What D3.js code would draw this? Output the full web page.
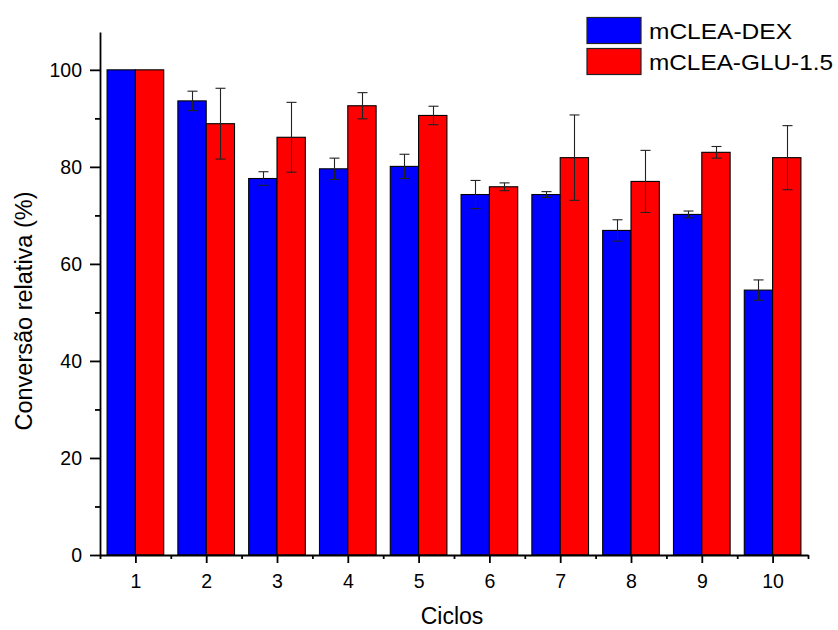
<!DOCTYPE html>
<html>
<head>
<meta charset="utf-8">
<script src="https://cdn.jsdelivr.net/npm/d3@7"></script>
<style>
  body { margin: 0; background: #fff; }
  text { font-family: Arial, "Liberation Sans", sans-serif; fill: #000; }
</style>
</head>
<body>
<div id="chart"></div>
<script>
// values
const cycles = [1, 2, 3, 4, 5, 6, 7, 8, 9, 10];
const dexValues = [100, 93.6, 77.6, 79.6, 80.1, 74.3, 74.3, 66.9, 70.2, 54.6];
const dexErrors = [0, 2.0, 1.4, 2.2, 2.5, 2.9, 0.6, 2.2, 0.7, 2.1];
const gluValues = [100, 88.9, 86.1, 92.6, 90.6, 75.9, 81.9, 77.0, 83.0, 81.9];
const gluErrors = [0, 7.3, 7.2, 2.7, 1.9, 0.8, 8.8, 6.4, 1.2, 6.6];
const seriesNames = ["mCLEA-DEX", "mCLEA-GLU-1.5"];
const seriesColors = ["#0000ff", "#ff0000"];
const yTicks = [0, 20, 40, 60, 80, 100];
const yMinorTicks = [10, 30, 50, 70, 90];
const xMinorTicks = [0.5, 1.5, 2.5, 3.5, 4.5, 5.5, 6.5, 7.5, 8.5, 9.5, 10.5];

const width = 838, height = 630;

const svg = d3.select("#chart")
    .append("svg")
    .attr("width", width)
    .attr("height", height);

const x = d3.scaleLinear().domain([0.5, 10.5]).range([100, 808]);
const y = d3.scaleLinear().domain([0, 107.8]).range([555, 32]);

const series = [
    { name: seriesNames[0], color: seriesColors[0], values: dexValues, errors: dexErrors, offset: -0.4 },
    { name: seriesNames[1], color: seriesColors[1], values: gluValues, errors: gluErrors, offset: 0 }
];

const barW = 0.4;

// bars
series.forEach(s => {
    const rows = cycles.map((c, i) => ({ c: c, v: s.values[i], e: s.errors[i] }));
    const g = svg.append("g");
    g.selectAll("rect")
        .data(rows)
        .enter()
        .append("rect")
        .attr("x", d => x(d.c + s.offset))
        .attr("y", d => y(d.v))
        .attr("width", d => x(d.c + s.offset + barW) - x(d.c + s.offset))
        .attr("height", d => y(0) - y(d.v))
        .attr("fill", s.color)
        .attr("stroke", "#000")
        .attr("stroke-width", 1.1);

    // error bars
    const eb = g.selectAll("g.err")
        .data(rows.filter(d => d.e > 0))
        .enter()
        .append("g")
        .attr("stroke", "#222")
        .attr("stroke-width", 1.1);
    const cx = d => Math.round(x(d.c + s.offset + barW / 2)) + 0.5;
    eb.append("line")
        .attr("x1", cx).attr("x2", cx)
        .attr("y1", d => y(d.v + d.e)).attr("y2", d => y(d.v - d.e));
    eb.append("line")
        .attr("x1", d => cx(d) - 5).attr("x2", d => cx(d) + 5)
        .attr("y1", d => y(d.v + d.e)).attr("y2", d => y(d.v + d.e));
    eb.append("line")
        .attr("x1", d => cx(d) - 5).attr("x2", d => cx(d) + 5)
        .attr("y1", d => y(d.v - d.e)).attr("y2", d => y(d.v - d.e));
});

// y axis
svg.append("g")
    .attr("transform", "translate(100,0)")
    .call(d3.axisLeft(y).tickValues(yTicks).tickSize(10).tickSizeOuter(0).tickPadding(8));
svg.append("g")
    .attr("transform", "translate(100,0)")
    .call(d3.axisLeft(y).tickValues(yMinorTicks).tickSize(5).tickSizeOuter(0).tickFormat(""))
    .select(".domain").remove();

// x axis
svg.append("g")
    .attr("transform", "translate(0,555)")
    .call(d3.axisBottom(x).tickValues(cycles).tickSize(8).tickSizeOuter(0).tickPadding(11));
svg.append("g")
    .attr("transform", "translate(0,555)")
    .call(d3.axisBottom(x).tickValues(xMinorTicks).tickSize(4).tickSizeOuter(0).tickFormat(""))
    .select(".domain").remove();

svg.selectAll(".domain, .tick line")
    .attr("stroke", "#000")
    .attr("stroke-width", 1.8);
svg.selectAll(".tick text")
    .attr("font-size", 19.5)
    .attr("font-family", "Arial, 'Liberation Sans', sans-serif")
    .attr("fill", "#000");

// axis titles
svg.append("text")
    .attr("x", 452)
    .attr("y", 624)
    .attr("text-anchor", "middle")
    .style("font-size", "23px")
    .text("Ciclos");

svg.append("text")
    .attr("transform", "translate(32,311) rotate(-90)")
    .attr("text-anchor", "middle")
    .style("font-size", "23.5px")
    .text("Conversão relativa (%)");

// legend
const legend = svg.append("g")
    .selectAll("g")
    .data(series)
    .enter()
    .append("g")
    .attr("transform", (d, i) => `translate(587,${17.5 + i * 31})`);
legend.append("rect")
    .attr("width", 54)
    .attr("height", 26)
    .attr("fill", d => d.color)
    .attr("stroke", "#222")
    .attr("stroke-width", 1.2);
legend.append("text")
    .attr("x", 62)
    .attr("y", 21.8)
    .style("font-size", "22px")
    .attr("textLength", (d, i) => i === 0 ? 143 : 184)
    .attr("lengthAdjust", "spacingAndGlyphs")
    .text(d => d.name);
</script>
</body>
</html>
